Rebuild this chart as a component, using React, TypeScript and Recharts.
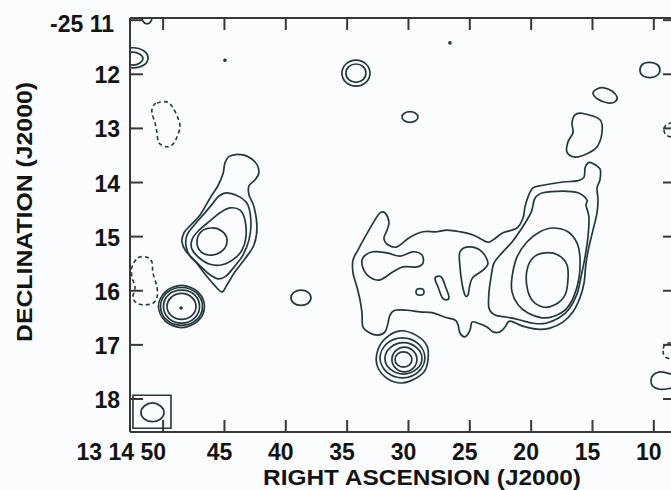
import { ComposedChart, Line, Scatter, XAxis, YAxis, ReferenceArea, ReferenceLine, Label } from "recharts"

// [RA seconds after 13h14m, Dec arcmin south of -25°]
type Pt = [number, number]

const W = 671
const H = 490
const PLOT_LEFT = 130
const PLOT_RIGHT = 671
const PLOT_TOP = 18
const PLOT_BOTTOM = 432

const raTicks = [50, 45, 40, 35, 30, 25, 20, 15, 10]
const decTicks = [11, 12, 13, 14, 15, 16, 17, 18]
const raRange = [8.6, 52.7]
const decRange = [10.96, 18.61]

// --- isolated sources along the northern and western edge ---
const topEdgeArc: Pt[] = [[51.72, 10.92], [51.64, 11.02], [51.32, 11.07], [50.99, 11.02], [50.91, 10.92], [50.99, 10.83], [51.32, 10.78], [51.64, 10.83]]
const westEdgeOuter: Pt[] = [[51.23, 11.7], [51.56, 11.83], [52.46, 11.88], [53.35, 11.83], [53.68, 11.7], [53.35, 11.57], [52.46, 11.51], [51.56, 11.57]]
const westEdgeInner: Pt[] = [[51.64, 11.71], [51.89, 11.79], [52.46, 11.83], [53.03, 11.79], [53.27, 11.71], [53.03, 11.63], [52.46, 11.59], [51.89, 11.63]]
const knot34Outer: Pt[] = [[33.14, 11.98], [33.47, 12.15], [34.28, 12.22], [35.09, 12.15], [35.42, 11.98], [35.09, 11.81], [34.28, 11.74], [33.47, 11.81]]
const knot34Inner: Pt[] = [[33.47, 11.98], [33.7, 12.1], [34.28, 12.15], [34.86, 12.1], [35.1, 11.98], [34.86, 11.86], [34.28, 11.81], [33.7, 11.86]]
const knot30North: Pt[] = [[29.23, 12.79], [29.42, 12.86], [29.88, 12.89], [30.34, 12.86], [30.53, 12.79], [30.34, 12.72], [29.88, 12.69], [29.42, 12.72]]
const knot14: Pt[] = [[14.96, 12.35], [14.63, 12.27], [14.06, 12.25], [13.41, 12.31], [13.0, 12.42], [13.17, 12.51], [13.74, 12.53], [14.55, 12.46]]
const knot10: Pt[] = [[9.5, 11.92], [9.73, 12.02], [10.31, 12.06], [10.89, 12.03], [11.13, 11.92], [10.89, 11.81], [10.31, 11.78], [9.73, 11.82]]
const spur16: Pt[] = [[15.86, 12.72], [14.39, 12.84], [14.23, 13.08], [14.63, 13.34], [15.45, 13.47], [16.43, 13.53], [17.08, 13.44], [17.0, 13.25], [16.59, 13.08], [16.67, 12.9], [16.43, 12.75]]

// --- extended source near 13 14 45 ---
const ra45Outer: Pt[] = [[44.55, 13.51], [43.49, 13.49], [42.51, 13.62], [42.19, 13.81], [42.51, 13.95], [43.0, 14.06], [43.0, 14.23], [42.59, 14.45], [42.35, 14.82], [42.59, 15.15], [43.33, 15.41], [44.14, 15.65], [44.79, 15.89], [45.2, 16.02], [45.77, 15.91], [46.59, 15.69], [47.4, 15.45], [48.14, 15.27], [48.46, 15.1], [48.3, 14.93], [47.81, 14.8], [46.99, 14.6], [46.18, 14.29], [45.53, 14.06], [45.12, 13.84], [44.96, 13.64]]
const ra45Second: Pt[] = [[44.79, 14.19], [43.73, 14.27], [43.08, 14.42], [42.84, 14.75], [43.0, 15.06], [43.49, 15.34], [44.14, 15.54], [44.88, 15.73], [45.53, 15.78], [46.26, 15.69], [47.07, 15.52], [47.81, 15.36], [48.14, 15.17], [48.05, 14.97], [47.4, 14.77], [46.59, 14.56], [45.93, 14.38], [45.45, 14.25]]
const ra45Third: Pt[] = [[44.55, 14.47], [43.73, 14.51], [43.33, 14.69], [43.25, 15.01], [43.57, 15.25], [44.22, 15.41], [45.2, 15.52], [46.18, 15.51], [47.07, 15.39], [47.65, 15.23], [47.65, 15.06], [47.16, 14.9], [46.18, 14.71], [45.36, 14.56]]
const ra45Core: Pt[] = [[44.79, 15.06], [45.12, 15.25], [46.02, 15.34], [46.91, 15.28], [47.24, 15.1], [46.91, 14.91], [46.02, 14.84], [45.2, 14.9]]

// --- compact source at 13 14 48.5 ---
const c48Ring1: Pt[] = [[46.63, 16.29], [47.17, 16.56], [48.5, 16.68], [49.83, 16.56], [50.38, 16.29], [49.83, 16.02], [48.5, 15.9], [47.17, 16.02]]
const c48Ring2: Pt[] = [[46.79, 16.29], [47.29, 16.54], [48.5, 16.64], [49.71, 16.54], [50.21, 16.29], [49.71, 16.04], [48.5, 15.94], [47.29, 16.04]]
const c48Ring3: Pt[] = [[47.03, 16.29], [47.46, 16.51], [48.5, 16.6], [49.54, 16.51], [49.97, 16.29], [49.54, 16.07], [48.5, 15.99], [47.46, 16.07]]
const c48Ring4: Pt[] = [[47.32, 16.29], [47.67, 16.46], [48.5, 16.53], [49.33, 16.46], [49.68, 16.29], [49.33, 16.12], [48.5, 16.05], [47.67, 16.12]]
const faintKnot38: Pt[] = [[37.95, 16.13], [38.18, 16.23], [38.76, 16.27], [39.34, 16.23], [39.58, 16.13], [39.34, 16.03], [38.76, 15.99], [38.18, 16.03]]

// --- compact source at 13 14 30.4 ---
const c30Outer: Pt[] = [[30.69, 16.74], [29.39, 16.82], [28.49, 17.02], [28.41, 17.28], [28.74, 17.5], [29.88, 17.67], [30.85, 17.7], [31.91, 17.59], [32.57, 17.37], [32.49, 17.09], [31.83, 16.87]]
const c30Ring2: Pt[] = [[28.66, 17.24], [29.19, 17.5], [30.49, 17.61], [31.79, 17.5], [32.32, 17.24], [31.79, 16.98], [30.49, 16.87], [29.19, 16.98]]
const c30Ring3: Pt[] = [[28.9, 17.25], [29.34, 17.45], [30.41, 17.54], [31.48, 17.45], [31.92, 17.25], [31.48, 17.05], [30.41, 16.96], [29.34, 17.05]]
const c30Ring4: Pt[] = [[29.31, 17.27], [29.61, 17.43], [30.33, 17.5], [31.05, 17.43], [31.35, 17.27], [31.05, 17.11], [30.33, 17.04], [29.61, 17.11]]
const c30Core: Pt[] = [[29.72, 17.27], [29.92, 17.37], [30.41, 17.41], [30.9, 17.37], [31.1, 17.27], [30.9, 17.17], [30.41, 17.13], [29.92, 17.17]]

// --- main extended emission, 13 14 34 to 13 14 14 ---
const mainOuter: Pt[] = [
  [15.04, 13.64], [14.39, 13.75], [14.39, 13.95], [14.63, 14.1], [14.55, 14.32], [14.63, 14.56], [14.96, 14.88],
  [15.29, 15.19], [15.53, 15.49], [15.69, 15.86], [16.02, 16.13], [16.59, 16.39], [17.41, 16.58], [18.47, 16.69],
  [19.53, 16.71], [20.75, 16.65], [21.73, 16.56], [22.13, 16.67], [22.54, 16.76], [23.11, 16.76], [23.6, 16.67],
  [24.33, 16.6], [24.82, 16.58], [24.99, 16.73], [25.39, 16.85], [25.8, 16.78], [25.96, 16.63], [26.21, 16.54],
  [27.02, 16.49], [28.0, 16.41], [29.06, 16.39], [30.12, 16.36], [31.1, 16.36], [31.51, 16.45], [31.67, 16.6],
  [31.91, 16.76], [32.49, 16.82], [33.14, 16.78], [33.71, 16.67], [33.79, 16.41], [33.95, 16.17], [34.2, 15.93],
  [34.52, 15.67], [34.52, 15.43], [34.12, 15.25], [33.55, 15.01], [32.73, 14.69], [32.32, 14.56], [31.91, 14.56],
  [31.59, 14.73], [31.75, 14.88], [32.0, 15.03], [31.67, 15.15], [30.94, 15.19], [29.88, 15.01], [28.82, 14.91],
  [27.68, 14.91], [26.86, 14.88], [25.8, 14.91], [24.74, 14.97], [23.6, 15.1], [23.11, 15.06], [22.3, 14.93],
  [21.16, 14.84], [20.67, 14.66], [20.5, 14.45], [20.26, 14.27], [19.85, 14.1], [19.04, 14.05], [17.41, 13.99],
  [16.26, 13.97], [15.69, 13.9], [15.61, 13.73], [15.37, 13.64],
]
const mainSecond: Pt[] = [
  [19.93, 14.51], [19.69, 14.29], [19.04, 14.19], [17.41, 14.16], [16.18, 14.19], [15.45, 14.32], [15.53, 14.42],
  [15.29, 14.64], [15.37, 15.01], [15.61, 15.38], [15.94, 15.75], [16.26, 16.06], [16.92, 16.34], [17.73, 16.5],
  [18.79, 16.6], [19.85, 16.6], [20.91, 16.54], [21.97, 16.49], [22.95, 16.45], [23.44, 16.32], [23.44, 16.04],
  [23.27, 15.75], [23.03, 15.49], [22.38, 15.3], [21.56, 15.1], [20.75, 14.84], [20.26, 14.66],
]
const mainThird: Pt[] = [
  [17.0, 14.91], [16.26, 15.12], [16.02, 15.39], [16.1, 15.76], [16.51, 16.1], [17.16, 16.34], [18.14, 16.47],
  [19.12, 16.5], [20.26, 16.41], [21.07, 16.26], [21.56, 16.02], [21.56, 15.75], [21.16, 15.38], [20.34, 15.1],
  [19.28, 14.91], [18.22, 14.84],
]
const mainCore: Pt[] = [[20.34, 15.62], [19.85, 15.39], [18.87, 15.3], [17.81, 15.34], [17.08, 15.52], [17.0, 15.8], [17.24, 16.08], [18.06, 16.26], [19.04, 16.3], [19.93, 16.17], [20.34, 15.93]]
const westIsland: Pt[] = [[33.71, 15.39], [32.89, 15.28], [31.75, 15.3], [30.69, 15.36], [29.63, 15.28], [28.9, 15.34], [28.82, 15.49], [29.31, 15.56], [30.45, 15.56], [31.26, 15.65], [32.32, 15.8], [33.14, 15.75], [33.71, 15.58]]
const tinyIsland: Pt[] = [[28.73, 16.02], [28.83, 16.07], [29.06, 16.08], [29.29, 16.07], [29.39, 16.02], [29.29, 15.97], [29.06, 15.96], [28.83, 15.97]]
const slantIsland: Pt[] = [[27.59, 15.73], [27.27, 15.76], [26.94, 15.95], [26.7, 16.12], [26.94, 16.17], [27.27, 16.12], [27.59, 15.93], [27.84, 15.78]]
const wedgeIsland: Pt[] = [[25.8, 15.28], [24.99, 15.19], [24.01, 15.28], [23.52, 15.49], [23.93, 15.62], [24.74, 15.75], [24.99, 15.89], [25.15, 16.08], [25.39, 16.08], [25.64, 15.86], [25.8, 15.56]]
const eastEdge17: Pt[] = [[8.6, 17.54], [9.5, 17.5], [10.15, 17.59], [10.15, 17.74], [9.5, 17.82], [8.6, 17.8], [7.87, 17.76], [7.87, 17.57]]

// negative contours
const dashNorthWest: Pt[] = [[50.5, 12.53], [49.68, 12.51], [49.2, 12.62], [48.79, 12.81], [48.62, 12.97], [48.87, 13.16], [49.2, 13.29], [49.68, 13.34], [50.34, 13.27], [50.5, 13.08], [50.66, 12.9], [50.91, 12.71], [50.83, 12.59]]
const dashWestEdge: Pt[] = [[52.05, 15.39], [51.32, 15.38], [50.91, 15.47], [50.83, 15.67], [50.5, 15.93], [50.5, 16.12], [50.83, 16.23], [51.48, 16.26], [52.13, 16.23], [52.46, 16.12], [52.29, 15.93], [52.54, 15.75], [52.54, 15.56]]
const dashEastNorth: Pt[] = [[9.17, 13.03], [9.01, 13.12], [8.52, 13.16], [8.03, 13.12], [7.87, 13.03], [8.03, 12.94], [8.52, 12.9], [9.01, 12.94]]
const dashEastSouth: Pt[] = [[9.25, 17.11], [9.09, 17.22], [8.52, 17.26], [7.95, 17.22], [7.79, 17.11], [7.95, 17.0], [8.52, 16.96], [9.09, 17.0]]

// unresolved peaks
const peakDots: Pt[] = [[44.96, 11.74], [26.62, 11.42], [48.54, 16.32]]

// restoring beam, lower left corner
const beamEllipse: Pt[] = [[49.93, 18.25], [50.21, 18.37], [50.87, 18.42], [51.53, 18.37], [51.81, 18.25], [51.53, 18.13], [50.87, 18.07], [50.21, 18.13]]
const beamBoxRa = [52.46, 49.36]
const beamBoxDec = [17.93, 18.54]

const solidContours: Pt[][] = [
  topEdgeArc, westEdgeOuter, westEdgeInner, knot34Outer, knot34Inner, knot30North, knot14, knot10, spur16,
  ra45Outer, ra45Second, ra45Third, ra45Core,
  c48Ring1, c48Ring2, c48Ring3, c48Ring4, faintKnot38,
  c30Outer, c30Ring2, c30Ring3, c30Ring4, c30Core,
  mainOuter, mainSecond, mainThird, mainCore, westIsland, tinyIsland, slantIsland, wedgeIsland, eastEdge17,
  beamEllipse,
]
const dashedContours: Pt[][] = [dashNorthWest, dashWestEdge, dashEastNorth, dashEastSouth]

const INK = "#141414"
const FRAME = "#383838"
const CONTOUR = "#24383c"
const fontFamily = '"Liberation Sans", Arial, Helvetica, sans-serif'
const tickFont = { fontFamily, fontWeight: 700, fontSize: 23 }
const titleFont = { fontFamily, fontWeight: 700, fontSize: 22.5 }

const rows = (pts: Pt[]) => pts.map(([ra, dec]) => ({ ra, dec }))

// closed Catmull-Rom spline through every vertex, so contours come out round
function smoothClosed(ctx: any) {
  let pts: number[][] = []
  return {
    areaStart() {},
    areaEnd() {},
    lineStart() {
      pts = []
    },
    point(x: number, y: number) {
      pts.push([x, y])
    },
    lineEnd() {
      const n = pts.length
      if (n < 3) return
      ctx.moveTo(pts[0][0], pts[0][1])
      for (let i = 0; i < n; i++) {
        const a = pts[(i + n - 1) % n]
        const b = pts[i]
        const c = pts[(i + 1) % n]
        const d = pts[(i + 2) % n]
        ctx.bezierCurveTo(
          b[0] + (c[0] - a[0]) / 6, b[1] + (c[1] - a[1]) / 6,
          c[0] - (d[0] - b[0]) / 6, c[1] - (d[1] - b[1]) / 6,
          c[0], c[1],
        )
      }
      ctx.closePath()
    },
  }
}

function RaTick({ x, payload }: any) {
  const v = payload.value
  const first = v === 50
  return (
    <g>
      <line x1={x} x2={x} y1={PLOT_BOTTOM} y2={PLOT_BOTTOM - 12} stroke={FRAME} strokeWidth={2} />
      <line x1={x} x2={x} y1={PLOT_TOP} y2={PLOT_TOP + 12} stroke={FRAME} strokeWidth={2} />
      <text x={first ? x + 3 : x - 5} y={459.5} textAnchor={first ? "end" : "middle"} fill={INK} style={tickFont}>
        {first ? "13 14 50" : v}
      </text>
    </g>
  )
}

function DecTick({ y, payload }: any) {
  const v = payload.value
  const first = v === 11
  return (
    <g>
      <line x1={PLOT_LEFT} x2={PLOT_LEFT + 13} y1={y} y2={y} stroke={FRAME} strokeWidth={2} />
      <line x1={PLOT_RIGHT} x2={PLOT_RIGHT - 8} y1={y} y2={y} stroke={FRAME} strokeWidth={2} />
      <text x={first ? 114 : 120} y={y + (first ? 12 : 9)} textAnchor="end" fill={INK} style={tickFont}>
        {first ? "-25 11" : v}
      </text>
    </g>
  )
}

const xTitle = () => (
  <text x={422} y={484.5} textAnchor="middle" textLength={318} lengthAdjust="spacingAndGlyphs" fill={INK} style={titleFont}>
    RIGHT ASCENSION (J2000)
  </text>
)

const yTitle = () => (
  <text
    transform="translate(32,212) rotate(-90)"
    textAnchor="middle"
    textLength={260}
    lengthAdjust="spacingAndGlyphs"
    fill={INK}
    style={titleFont}
  >
    DECLINATION (J2000)
  </text>
)

const PeakDot = (p: any) => <circle cx={p.cx} cy={p.cy} r={1.8} fill={CONTOUR} />

export default function App() {
  return (
    <div style={{ position: "absolute", left: 0, top: 0, width: W, height: H, background: "#fbfcfd" }}>
      <ComposedChart width={W} height={H} margin={{ top: PLOT_TOP, right: 0, bottom: 0, left: 0 }}>
        <XAxis
          type="number"
          dataKey="ra"
          domain={raRange}
          reversed
          allowDataOverflow
          ticks={raTicks}
          interval={0}
          height={H - PLOT_BOTTOM}
          axisLine={{ stroke: FRAME, strokeWidth: 2 }}
          tickLine={false}
          tick={<RaTick />}
        >
          <Label content={xTitle} />
        </XAxis>
        <YAxis
          type="number"
          dataKey="dec"
          domain={decRange}
          reversed
          allowDataOverflow
          ticks={decTicks}
          interval={0}
          width={PLOT_LEFT}
          axisLine={{ stroke: FRAME, strokeWidth: 2 }}
          tickLine={false}
          tick={<DecTick />}
        >
          <Label content={yTitle} />
        </YAxis>
        <ReferenceLine y={decRange[0]} stroke={FRAME} strokeWidth={2} />

        {solidContours.map((c, i) => (
          <Line
            key={`solid-${i}`}
            data={rows(c)}
            dataKey="dec"
            type={smoothClosed as any}
            stroke={CONTOUR}
            strokeWidth={1.7}
            dot={false}
            activeDot={false}
            isAnimationActive={false}
          />
        ))}
        {dashedContours.map((c, i) => (
          <Line
            key={`dash-${i}`}
            data={rows(c)}
            dataKey="dec"
            type={smoothClosed as any}
            stroke={CONTOUR}
            strokeWidth={1.6}
            strokeDasharray="4 3"
            dot={false}
            activeDot={false}
            isAnimationActive={false}
          />
        ))}
        <Scatter data={rows(peakDots)} shape={PeakDot} isAnimationActive={false} />

        <ReferenceArea
          x1={beamBoxRa[0]}
          x2={beamBoxRa[1]}
          y1={beamBoxDec[0]}
          y2={beamBoxDec[1]}
          fill="none"
          stroke={CONTOUR}
          strokeWidth={1.6}
        />
      </ComposedChart>
    </div>
  )
}
